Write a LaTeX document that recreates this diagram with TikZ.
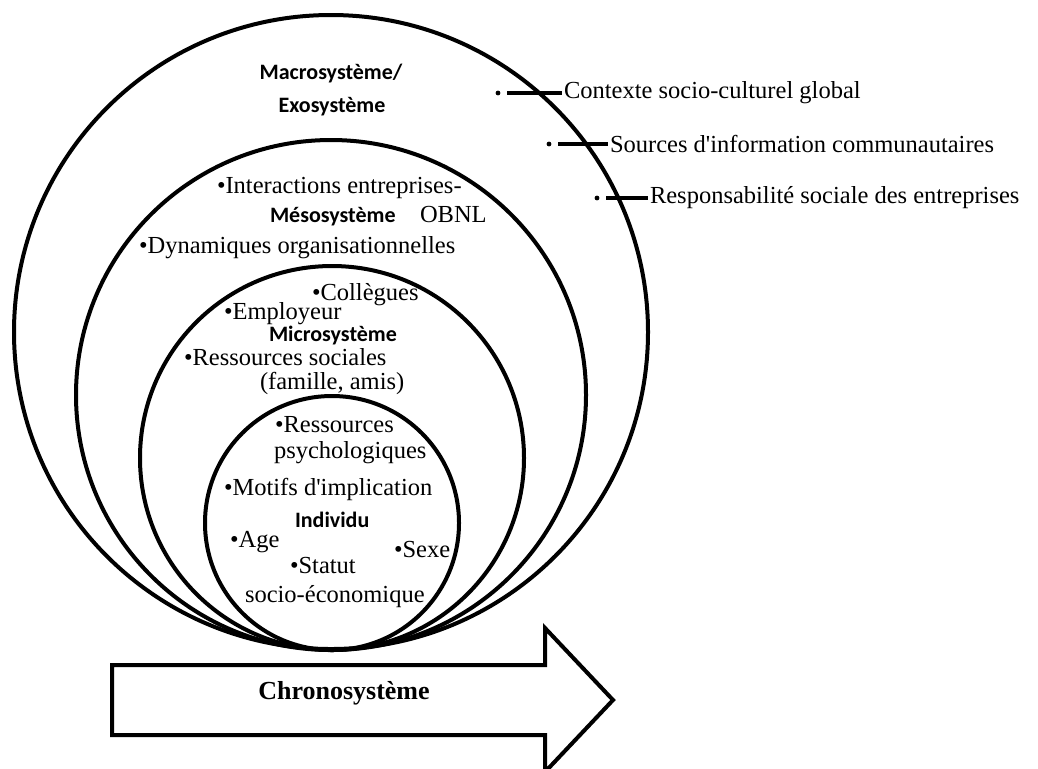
\documentclass[tikz,border=0pt]{standalone}
\usepackage{fontspec}
\setmainfont{Liberation Serif}
\newfontfamily\levelfont{Carlito}
\begin{document}
\begin{tikzpicture}[x=0.5pt, y=0.5pt, line width=2pt,
    every node/.style={inner sep=0pt, font=\fontsize{12.25}{14}\selectfont},
    item/.style={anchor=base west},
    level/.style={font=\levelfont\bfseries\fontsize{11}{13}\selectfont},
    dot/.style={circle, fill, minimum size=2.4pt},
    link/.style={shorten <=2.5pt}]
    \useasboundingbox (0,0) rectangle (1038,-768);
    \draw (331,-332) circle[radius=317];
    \draw (331,-395) circle[radius=255];
    \draw (332,-458) circle[radius=192];
    \draw (332,-523) circle[radius=127];
    \node[level, anchor=base] (macro) at (331,-79) {Macrosystème/};
    \node[level, anchor=base] (exo) at (332,-112) {Exosystème};
    \node[item] (interact) at (215,-193) {•Interactions entreprises-};
    \node[level, item] (meso) at (268,-222) {Mésosystème};
    \node[item] (obnl) at (418,-222) {OBNL};
    \node[item] (dynam) at (137,-253) {•Dynamiques organisationnelles};
    \node[item] (colleg) at (310,-300) {•Collègues};
    \node[item] (employ) at (222,-319) {•Employeur};
    \node[level, item] (micro) at (267,-341) {Microsystème};
    \node[item] (ressoc) at (182,-365) {•Ressources sociales};
    \node[item] (famille) at (258,-389) {(famille, amis)};
    \node[item] (respsy) at (273,-432) {•Ressources};
    \node[item] (psycho) at (272,-458) {psychologiques};
    \node[item] (motifs) at (222,-495) {•Motifs d\textquotesingle implication};
    \node[level, item] (indiv) at (293,-527) {Individu};
    \node[item] (age) at (228,-547) {•Age};
    \node[item] (sexe) at (392,-557) {•Sexe};
    \node[item] (statut) at (288,-573) {•Statut};
    \node[item] (socioeco) at (243,-602) {socio-économique};
    \node[dot] (ctxdot) at (498,-93) {};
    \node[anchor=west] (ctx) at (562,-93) {Contexte socio-culturel global};
    \node[dot] (srcdot) at (549,-144) {};
    \node[anchor=west] (src) at (608,-144) {Sources d\textquotesingle information communautaires};
    \node[dot] (rsedot) at (597,-198) {};
    \node[anchor=west] (rse) at (648,-198) {Responsabilité sociale des entreprises};
    \draw[link] (ctxdot) -- (ctx);
    \draw[link] (srcdot) -- (src);
    \draw[link] (rsedot) -- (rse);
    \draw (112,-665) -- (545,-665) -- (545,-628) -- (613,-700) -- (545,-772) -- (545,-735) -- (112,-735) -- cycle;
    \node[anchor=base, font=\bfseries\fontsize{13}{15}\selectfont] (chrono) at (344,-699) {Chronosystème};
\end{tikzpicture}
\end{document}
